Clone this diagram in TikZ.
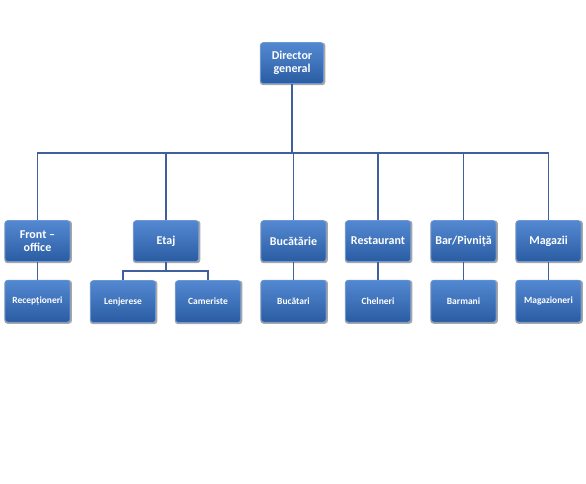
\documentclass[tikz,border=0pt]{standalone}
\usepackage{fontspec}
\setmainfont{Carlito}
\usepackage{xcolor}
\usetikzlibrary{positioning,shadows}
\definecolor{boxtop}{HTML}{5389D2}
\definecolor{boxbot}{HTML}{2A5CA2}
\definecolor{boxedge}{HTML}{6C98D6}
\definecolor{linkblue}{HTML}{3F5F9E}

\begin{document}
\begin{tikzpicture}[
x=1pt, y=-1pt,
node distance=18pt,
unit/.style={rounded corners=3pt, top color=boxtop, bottom color=boxbot, draw=boxedge, line width=0.6pt,
  text=white, font=\bfseries\fontsize{12}{12.5}\selectfont, align=center,
  minimum width=65pt, minimum height=41pt, inner sep=2pt,
  drop shadow={opacity=0.7, shadow xshift=0.6pt, shadow yshift=-0.8pt, shadow scale=1.04}},
sub/.style={unit, font=\bfseries\fontsize{9.5}{10}\selectfont, minimum height=42pt},
link/.style={draw=linkblue, line width=1.6pt}
]
\useasboundingbox (0,0) rectangle (586,483);
% top
\node[unit, minimum width=63pt] (dg) at (292,63) {Director\\general};
% departments
\node[unit] (fo) at (37.5,241) {Front –\\office};
\node[unit] (et) at (166,241) {Etaj};
\node[unit] (bu) at (293.5,241) {Bucătărie};
\node[unit] (re) at (378,241) {Restaurant};
\node[unit] (ba) at (463.5,241) {Bar/Pivniță};
\node[unit] (ma) at (548.5,241) {Magazii};
% staff
\node[sub, below=of fo] (rc) {Recepționeri};
\node[sub] (le) at (123,301.5) {Lenjerese};
\node[sub] (ca) at (208,301.5) {Cameriste};
\node[sub, below=of bu] (bc) {Bucătari};
\node[sub, below=of re] (ch) {Chelneri};
\node[sub, below=of ba] (bm) {Barmani};
\node[sub, below=of ma] (mg) {Magazioneri};
% connectors
\coordinate (bus) at (dg.south |- 0,153);
\coordinate (ebus) at (et.south |- 0,271);
\draw[link] (dg.south) -- (bus);
\foreach \d in {fo,et,bu,re,ba,ma}
  \draw[link] (bus) -| (\d.north);
\foreach \a/\b in {fo/rc,bu/bc,re/ch,ba/bm,ma/mg}
  \draw[link] (\a.south) -- (\b.north);
\draw[link] (et.south) -- (ebus);
\draw[link] (ebus) -| (le.north);
\draw[link] (ebus) -| (ca.north);
\end{tikzpicture}
\end{document}
